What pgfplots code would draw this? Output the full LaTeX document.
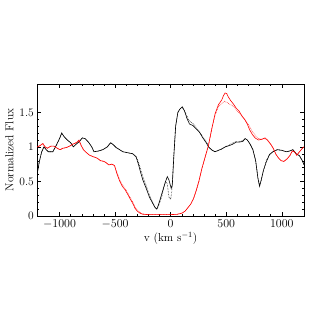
\documentclass[border=0pt]{standalone}
\usepackage{pgfplots}
\pgfplotsset{compat=1.18}
\begin{document}
\begin{tikzpicture}
\path[use as bounding box] (-37.3pt,-95pt) rectangle (273.7pt,216pt);
\begin{axis}[
  at={(0pt,0pt)}, anchor=south west,
  scale only axis, width=266.7pt, height=132pt,
  xmin=-1200, xmax=1200, ymin=0, ymax=1.91,
  xtick={-1000,-500,0,500,1000},
  ytick={0,0.5,1,1.5},
  yticklabels={0,0.5,1,1.5},
  /pgf/number format/set thousands separator={},
  minor x tick num=4, minor y tick num=4,
  tick align=inside, tick pos=both,
  major tick length=4pt, minor tick length=2pt,
  tick label style={font=\fontsize{11.5}{13}\selectfont},
  label style={font=\fontsize{11.5}{13}\selectfont},
  xlabel={v (km s$^{-1}$)}, ylabel={Normalized Flux},
  xlabel style={yshift=3pt}, ylabel style={yshift=-1pt},
  axis line style={line width=0.5pt},
  every tick/.style={black, line width=0.4pt},
]
% black dotted
\addplot[black, densely dotted, line width=0.55pt] coordinates {
(-1200,0.62) (-1180,0.8) (-1160,0.93) (-1140,1.0) (-1120,0.96) (-1100,0.93) (-1060,0.93) (-1030,1.02) (-1000,1.12) (-980,1.2) (-960,1.15) (-930,1.1) (-900,1.06) (-875,1.0) (-850,1.04) (-820,1.08) (-795,1.13) (-770,1.12) (-740,1.07) (-710,1.0) (-690,0.93) (-650,0.94) (-610,0.96) (-570,1.0) (-540,1.06) (-515,1.03) (-490,0.99) (-460,0.96) (-430,0.93) (-400,0.92) (-370,0.91) (-340,0.9) (-310,0.86) (-290,0.78) (-270,0.68) (-250,0.57) (-220,0.44) (-190,0.30) (-160,0.19) (-140,0.13) (-125,0.10) (-110,0.14) (-80,0.28) (-60,0.42) (-45,0.50) (-30,0.46) (-15,0.27) (0,0.24) (10,0.35) (25,0.8) (45,1.3) (65,1.50) (85,1.55) (105,1.57) (125,1.52) (145,1.45) (170,1.37) (200,1.34) (230,1.28) (260,1.22) (290,1.14) (320,1.08) (345,1.0) (375,0.95) (400,0.93) (430,0.95) (460,0.97) (490,1.0) (530,1.03) (560,1.06) (590,1.08) (620,1.08) (650,1.09) (670,1.12) (690,1.10) (715,1.04) (740,0.96) (765,0.80) (785,0.56) (800,0.44) (815,0.52) (835,0.66) (860,0.80) (890,0.89) (920,0.93) (960,0.96) (1000,0.95) (1040,0.93) (1070,0.94) (1100,0.96) (1130,0.90) (1160,0.87) (1185,0.80) (1200,0.74)
};
% red dotted
\addplot[red, densely dotted, line width=0.55pt] coordinates {
(-1200,1.0) (-1175,1.02) (-1150,1.04) (-1130,1.0) (-1110,0.98) (-1080,1.01) (-1050,1.01) (-1020,0.98) (-995,0.96) (-970,0.98) (-940,0.99) (-910,1.01) (-880,1.04) (-850,1.06) (-825,1.08) (-805,1.02) (-785,0.96) (-760,0.92) (-730,0.88) (-700,0.86) (-665,0.84) (-630,0.80) (-600,0.79) (-580,0.77) (-555,0.74) (-530,0.75) (-505,0.73) (-485,0.64) (-460,0.53) (-435,0.45) (-410,0.40) (-385,0.33) (-365,0.27) (-340,0.20) (-320,0.13) (-300,0.08) (-275,0.05) (-250,0.03) (-200,0.02) (-100,0.02) (0,0.02) (60,0.025) (100,0.04) (130,0.07) (155,0.12) (180,0.17) (205,0.24) (230,0.36) (255,0.50) (280,0.68) (310,0.85) (340,1.02) (370,1.26) (400,1.46) (430,1.58) (460,1.63) (485,1.66) (510,1.64) (540,1.61) (570,1.58) (600,1.52) (630,1.47) (660,1.41) (690,1.35) (715,1.28) (740,1.21) (765,1.16) (790,1.12) (820,1.11) (850,1.12) (870,1.10) (895,1.05) (920,0.99) (945,0.90) (970,0.84) (995,0.80) (1020,0.79) (1050,0.83) (1075,0.88) (1095,0.94) (1115,0.93) (1135,0.88) (1160,0.93) (1185,0.98) (1200,1.0)
};
% black solid
\addplot[black, line width=0.6pt] coordinates {
(-1200,0.62) (-1180,0.8) (-1160,0.93) (-1140,1.0) (-1120,0.96) (-1100,0.93) (-1060,0.93) (-1030,1.02) (-1000,1.12) (-980,1.2) (-960,1.15) (-930,1.1) (-900,1.06) (-875,1.0) (-850,1.04) (-820,1.08) (-795,1.13) (-770,1.12) (-740,1.07) (-710,1.0) (-690,0.93) (-650,0.94) (-610,0.96) (-570,1.0) (-540,1.06) (-515,1.03) (-490,0.99) (-460,0.96) (-430,0.93) (-400,0.92) (-370,0.91) (-340,0.9) (-310,0.85) (-290,0.75) (-270,0.63) (-250,0.52) (-220,0.40) (-190,0.27) (-160,0.18) (-140,0.12) (-125,0.10) (-110,0.16) (-80,0.32) (-50,0.48) (-30,0.57) (-15,0.52) (5,0.40) (15,0.45) (30,0.9) (45,1.3) (65,1.50) (85,1.55) (105,1.58) (125,1.52) (145,1.42) (170,1.33) (200,1.31) (230,1.26) (260,1.21) (290,1.13) (320,1.06) (345,0.99) (375,0.95) (400,0.93) (430,0.95) (460,0.97) (490,1.0) (530,1.02) (560,1.04) (590,1.07) (620,1.07) (650,1.08) (670,1.12) (690,1.10) (715,1.04) (740,0.96) (765,0.80) (785,0.55) (800,0.43) (815,0.52) (835,0.66) (860,0.78) (890,0.89) (920,0.93) (960,0.96) (1000,0.95) (1040,0.93) (1070,0.94) (1100,0.96) (1130,0.90) (1160,0.87) (1185,0.80) (1200,0.74)
};
% red solid
\addplot[red, line width=0.6pt] coordinates {
(-1200,1.0) (-1175,1.02) (-1150,1.05) (-1130,1.0) (-1110,0.98) (-1080,1.01) (-1050,1.01) (-1020,0.98) (-995,0.96) (-970,0.98) (-940,0.99) (-910,1.01) (-880,1.04) (-850,1.06) (-825,1.10) (-805,1.02) (-785,0.96) (-760,0.92) (-730,0.88) (-700,0.86) (-665,0.84) (-630,0.80) (-600,0.79) (-580,0.77) (-555,0.74) (-530,0.75) (-505,0.73) (-485,0.62) (-460,0.51) (-435,0.43) (-410,0.38) (-385,0.31) (-365,0.25) (-340,0.18) (-320,0.11) (-300,0.07) (-275,0.04) (-250,0.025) (-200,0.02) (-100,0.02) (0,0.02) (60,0.025) (100,0.04) (130,0.07) (155,0.12) (180,0.17) (205,0.25) (230,0.37) (255,0.51) (280,0.68) (310,0.85) (340,1.02) (370,1.26) (400,1.48) (430,1.61) (460,1.68) (475,1.74) (490,1.78) (505,1.77) (520,1.72) (540,1.67) (565,1.62) (590,1.56) (615,1.52) (640,1.45) (665,1.40) (690,1.33) (710,1.25) (735,1.18) (760,1.13) (790,1.10) (820,1.11) (850,1.13) (870,1.10) (895,1.05) (920,0.99) (945,0.90) (970,0.84) (995,0.80) (1020,0.79) (1050,0.83) (1075,0.88) (1095,0.94) (1115,0.93) (1135,0.88) (1160,0.93) (1185,0.98) (1200,1.0)
};
\end{axis}
\end{tikzpicture}
\end{document}
